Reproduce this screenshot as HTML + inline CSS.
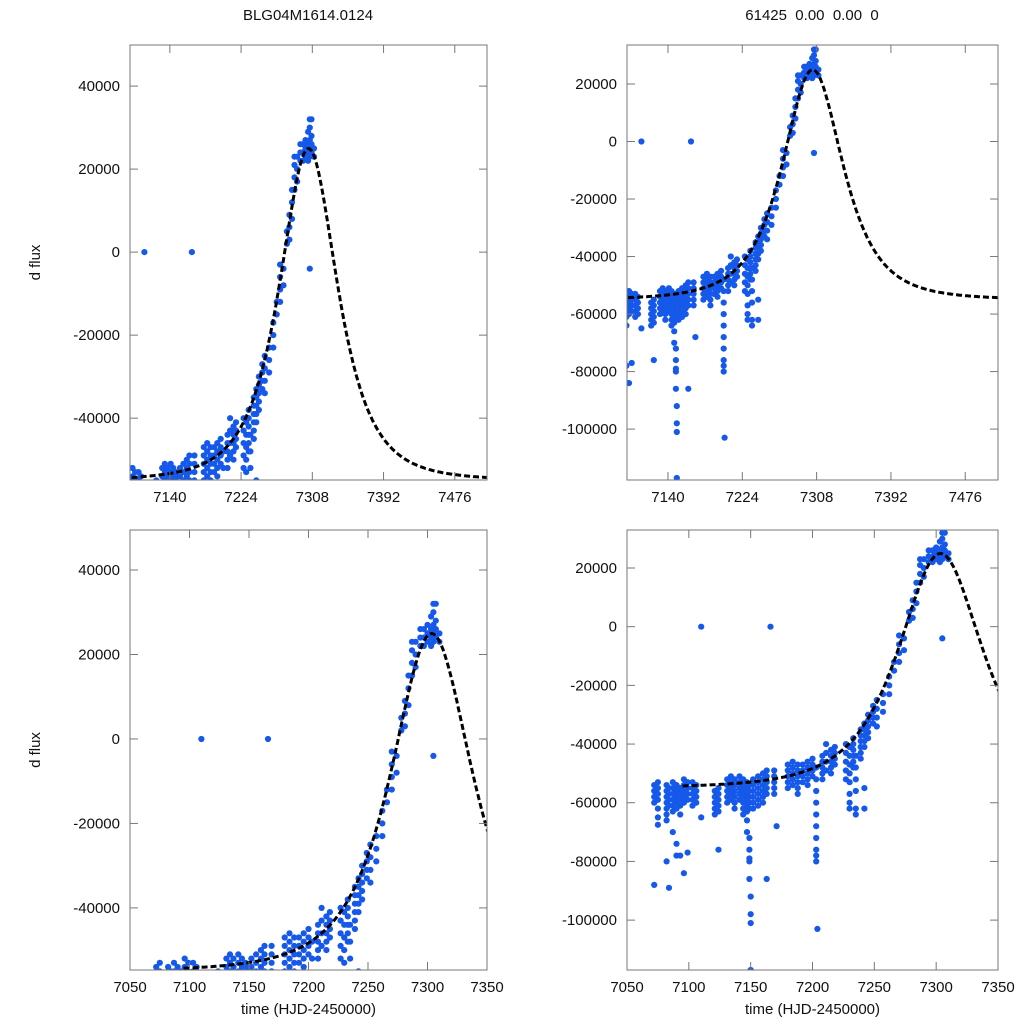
<!DOCTYPE html>
<html><head><meta charset="utf-8"><style>
html,body{margin:0;padding:0;background:#fff;width:1024px;height:1024px;overflow:hidden;}
svg{display:block;font-family:"Liberation Sans",sans-serif;}
</style></head><body>
<svg id="chart" width="1024" height="1024" viewBox="0 0 1024 1024"></svg>
<script>
const obsT = [7072,7072,7072,7072,7072,7075,7075,7075,7075,7075,7075,7075,7082,7082,7082,7082,7082,7082,7082,7082,7084,7084,7084,7084,7084,7087,7087,7087,7087,7087,7087,7087,7090,7090,7090,7090,7090,7090,7090,7093,7093,7093,7093,7093,7093,7096,7096,7096,7096,7096,7096,7099,7099,7099,7099,7099,7103,7103,7103,7103,7103,7106,7106,7106,7106,7110,7110,7121,7121,7121,7121,7121,7124,7124,7124,7124,7124,7124,7131,7131,7131,7131,7131,7134,7134,7134,7134,7134,7137,7137,7137,7137,7137,7137,7141,7141,7141,7141,7141,7144,7144,7144,7144,7144,7144,7144,7147,7147,7147,7147,7147,7147,7147,7147,7149,7149,7149,7149,7149,7149,7149,7149,7149,7149,7150,7150,7150,7150,7152,7152,7152,7152,7152,7152,7156,7156,7156,7156,7156,7156,7160,7160,7160,7160,7160,7160,7163,7163,7163,7163,7163,7163,7171,7166,7169,7169,7169,7169,7169,7180,7180,7180,7180,7180,7184,7184,7184,7184,7184,7188,7188,7188,7188,7188,7188,7192,7192,7192,7192,7196,7196,7196,7196,7196,7200,7200,7200,7200,7203,7203,7203,7203,7203,7203,7203,7203,7203,7203,7204,7208,7208,7208,7208,7208,7211,7211,7211,7211,7215,7215,7215,7215,7215,7218,7218,7218,7218,7227,7227,7227,7227,7227,7230,7230,7230,7230,7230,7230,7230,7230,7233,7233,7233,7233,7233,7233,7235,7235,7235,7235,7235,7235,7239,7239,7239,7239,7239,7239,7242,7242,7242,7242,7242,7242,7242,7245,7245,7245,7245,7245,7249,7249,7249,7249,7252,7252,7252,7252,7257,7257,7257,7262,7262,7262,7266,7266,7270,7270,7270,7270,7274,7274,7278,7278,7281,7281,7281,7284,7284,7284,7287,7287,7287,7287,7290,7290,7290,7294,7294,7294,7297,7297,7297,7300,7300,7300,7303,7303,7303,7303,7305,7305,7305,7305,7305,7305,7307,7307,7307,7307,7310,7310];
const obsF = [-54,-56,-58,-60,-88,-53,-55,-57,-59,-62,-65,-67.5,-54,-56,-58,-60,-62,-64,-66,-80,-55,-57,-59,-61,-89,-53,-55,-57,-59,-61,-63,-70,-54,-56,-58,-60,-62,-74,-78,-55,-57,-59,-61,-64,-78,-52,-54,-56,-58,-60,-84,-53,-55,-57,-59,-77,-53,-55,-57,-59,-61,-54,-56,-58,-60,0,-65,-56,-58,-60,-62,-64,-55,-57,-59,-61,-63,-76,-52,-54,-56,-58,-60,-51,-53,-55,-57,-59,-52,-54,-56,-58,-60,-62,-51,-53,-55,-57,-59,-52,-54,-56,-58,-60,-62,-64,-53,-55,-57,-59,-61,-63,-66,-70,-54,-56,-58,-60,-62,-72,-76,-79,-80,-86,-92,-98,-101,-117,-52,-54,-56,-58,-60,-62,-51,-53,-55,-57,-59,-61,-50,-52,-54,-56,-58,-60,-49,-51,-53,-55,-57,-86,-68,0,-49,-51,-53,-55,-57,-47,-49,-51,-53,-55,-46,-48,-50,-52,-54,-47,-49,-51,-53,-55,-57,-47,-49,-51,-53,-46,-48,-50,-52,-54,-45,-47,-49,-51,-48,-52,-56,-60,-64,-68,-72,-76,-78,-80,-103,-44,-46,-48,-50,-52,-40,-43,-46,-49,-42,-44,-46,-48,-50,-41,-43,-45,-47,-40,-43,-46,-49,-52,-41,-44,-47,-50,-53,-57,-60,-62,-38,-40,-42,-44,-46,-48,-44,-48,-52,-56,-62,-64,-35,-37,-39,-41,-43,-45,-33,-35,-37,-39,-41,-55,-62,-30,-32,-34,-36,-38,-27,-29,-31,-33,-25,-28,-31,-34,-23,-26,-29,-17,-20,-23,-12,-15,-3,-6,-9,-12,-4,-8,2,5,3,6,9,8,12,15,15,18,21,23,17,20,23,22,24,26,22,24,26,23,25,27,22,24,26,29,23,25,27,30,32,-4,24,26,28,32,23,25];
const xTicksTop = [7140,7224,7308,7392,7476];
const xTicksBot = [7050,7100,7150,7200,7250,7300,7350];
const yTicksLeft = [-40000,-20000,0,20000,40000];
const yTicksRight = [-100000,-80000,-60000,-40000,-20000,0,20000];
const modelT0 = 7303.5, modelTE = 44, modelU0 = 1, modelFs = 234000, modelBase = -55000;

const NS = "http://www.w3.org/2000/svg";
const svg = document.getElementById('chart');
function mk(tag, attrs, parent){const e=document.createElementNS(NS,tag);for(const k in attrs)e.setAttribute(k,attrs[k]);(parent||svg).appendChild(e);return e;}
function model(t){const tau=(t-modelT0)/modelTE;const u2=tau*tau+modelU0*modelU0;const u=Math.sqrt(u2);const A=(u2+2)/(u*Math.sqrt(u2+4));return modelBase+modelFs*(A-1);}

const panels = [
 {name:'top-left',x0:130,x1:487,y0:45,y1:480,tMin:7093,tMax:7514,fMin:-54900,fMax:49900,xt:xTicksTop,yt:yTicksLeft,ylab:true,xlab:false},
 {name:'top-right',x0:627,x1:998,y0:45,y1:480,tMin:7093.7,tMax:7513,fMin:-117700,fMax:33560,xt:xTicksTop,yt:yTicksRight,ylab:false,xlab:false},
 {name:'bottom-left',x0:130,x1:487,y0:530,y1:970,tMin:7050,tMax:7350,fMin:-54700,fMax:49470,xt:xTicksBot,yt:yTicksLeft,ylab:true,xlab:true},
 {name:'bottom-right',x0:627,x1:998,y0:530,y1:970,tMin:7050,tMax:7350,fMin:-117000,fMax:32950,xt:xTicksBot,yt:yTicksRight,ylab:false,xlab:true}
];

panels.forEach((p,i)=>{
 const g = mk('g',{});
 
 
 const sx = t => p.x0 + (t-p.tMin)/(p.tMax-p.tMin)*(p.x1-p.x0);
 const sy = f => p.y1 - (f-p.fMin)/(p.fMax-p.fMin)*(p.y1-p.y0);
 const cid='clip'+i;
 const cp=mk('clipPath',{id:cid},g);
 mk('rect',{x:p.x0,y:p.y0,width:p.x1-p.x0,height:p.y1-p.y0},cp);
 const pg=mk('g',{'clip-path':'url(#'+cid+')'},g);
 const dots=mk('g',{fill:'#1558ea'},pg);
 
 
 for(let k=0;k<obsT.length;k++){
  const c=mk('circle',{cx:sx(obsT[k]).toFixed(1),cy:sy(obsF[k]*1000).toFixed(1),r:3.1},dots);
  
  
 }
 let d='';
 for(let t=7095;t<=p.tMax+1;t+=1){d+=(d?'L':'M')+sx(t).toFixed(1)+','+sy(model(t)).toFixed(1);}
 const path=mk('path',{d:d,fill:'none',stroke:'#000','stroke-width':3,'stroke-dasharray':'6,3'},pg);
 
 
 const fr=mk('rect',{x:p.x0,y:p.y0,width:p.x1-p.x0,height:p.y1-p.y0,fill:'none',stroke:'#777','stroke-width':1},g);
 
 
 p.xt.forEach(v=>{
  const x=sx(v);
  mk('line',{x1:x,x2:x,y1:p.y1,y2:p.y1-8,stroke:'#777'},g);
  mk('line',{x1:x,x2:x,y1:p.y0,y2:p.y0+8,stroke:'#777'},g);
  const tx=mk('text',{x:x,y:p.y1+22,'font-size':15,'text-anchor':'middle',fill:'#111'},g);
  tx.textContent=v;
  
  
 });
 p.yt.forEach(v=>{
  const y=sy(v);
  mk('line',{x1:p.x0,x2:p.x0+8,y1:y,y2:y,stroke:'#777'},g);
  mk('line',{x1:p.x1,x2:p.x1-8,y1:y,y2:y,stroke:'#777'},g);
  const ty=mk('text',{x:p.x0-10,y:y+5,'font-size':15,'text-anchor':'end',fill:'#111'},g);
  ty.textContent=v;
  
  
 });
 if(p.ylab){
  const yl=mk('text',{x:0,y:0,'font-size':15,'text-anchor':'middle',fill:'#111',transform:'translate(40,'+((p.y0+p.y1)/2)+') rotate(-90)'},g);
  yl.textContent='d flux';
  
  
 }
 if(p.xlab){
  const xl=mk('text',{x:(p.x0+p.x1)/2,y:1014,'font-size':15,'text-anchor':'middle',fill:'#111'},g);
  xl.textContent='time (HJD-2450000)';
  
  
 }
});
const t1=mk('text',{x:308,y:20,'font-size':15,'text-anchor':'middle',fill:'#111'});
t1.textContent='BLG04M1614.0124';


const t2=mk('text',{x:812,y:20,'font-size':15,'text-anchor':'middle',fill:'#111'});
t2.setAttribute('style','white-space:pre');
t2.textContent='61425  0.00  0.00  0';


</script>
</body></html>
